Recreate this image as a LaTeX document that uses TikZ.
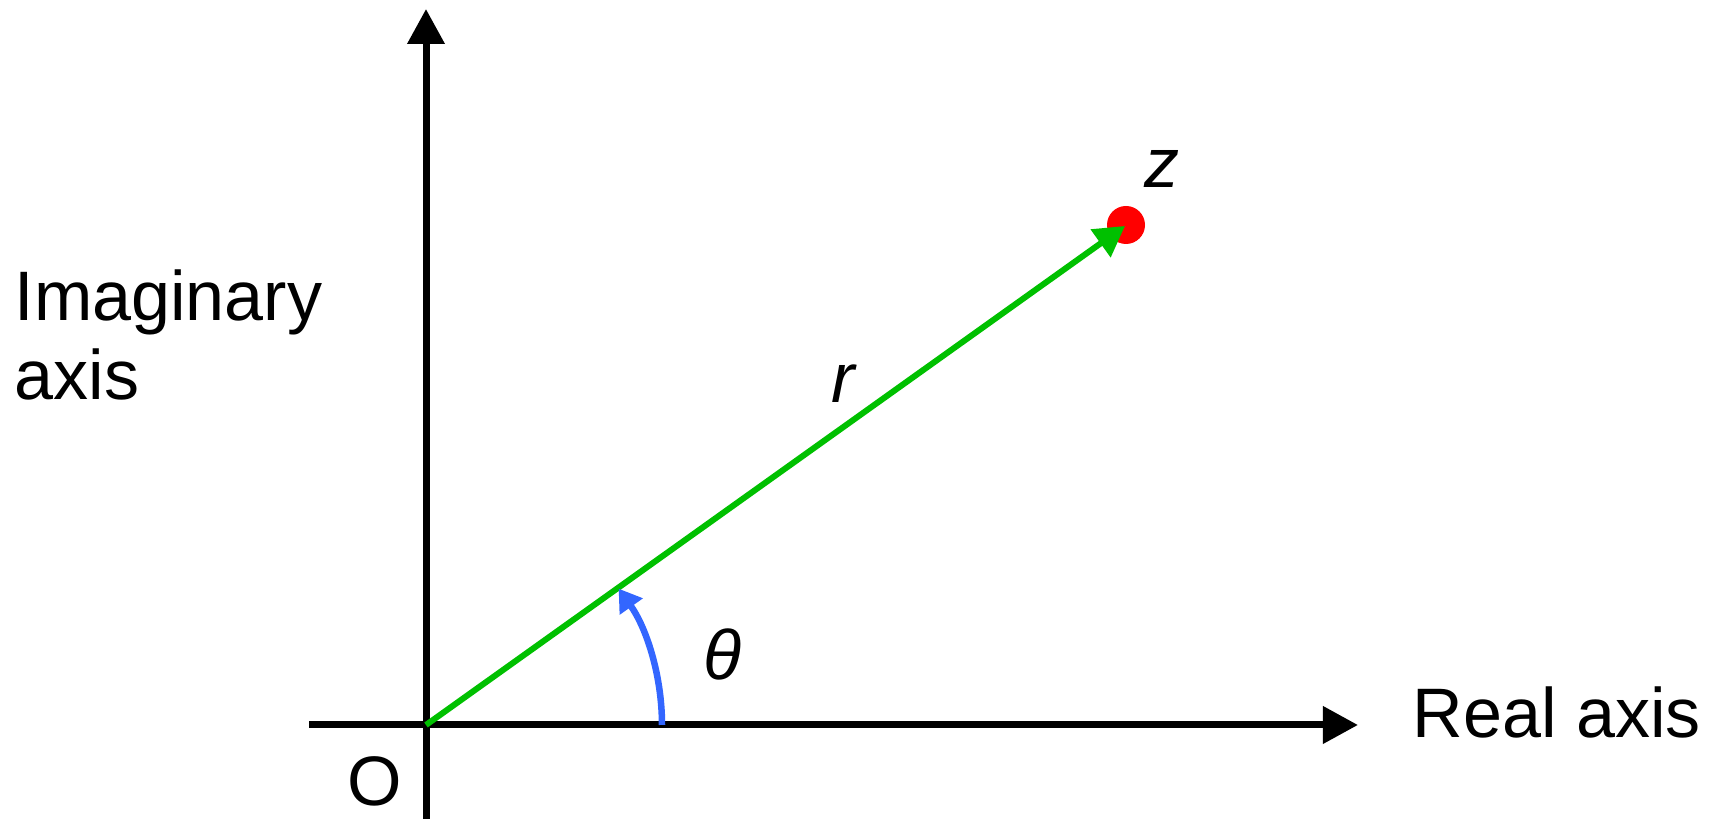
\documentclass[tikz,border=0pt]{standalone}
\usepackage{fontspec}
\setmainfont{Liberation Sans}
\usetikzlibrary{arrows.meta}
\definecolor{vecgreen}{RGB}{0,192,0}
\definecolor{angblue}{RGB}{51,102,255}
\definecolor{ptred}{RGB}{255,0,0}
\begin{document}
\begin{tikzpicture}[x=0.01cm,y=0.01cm,
  axisline/.style={line width=0.07cm,-{Triangle[length=0.35cm,width=0.36cm]}},
  veclines/.style={vecgreen,line width=0.06cm,-{Triangle[length=0.30cm,width=0.33cm]}},
  angarc/.style={angblue,line width=0.065cm,-{Triangle[length=0.22cm,width=0.27cm]}},
  lbl/.style={inner sep=0pt,font=\fontsize{19.92}{20.2}\selectfont},
  mathlbl/.style={lbl,font=\fontsize{19.92}{20.2}\selectfont\itshape}]
\useasboundingbox (0,0) rectangle (1723,819);
% coordinates
\coordinate (O) at (426,94);
\coordinate (ybot) at (426,0);
\coordinate (ytop) at (426,810);
\coordinate (xleft) at (309,94);
\coordinate (xright) at (1358,94);
\coordinate (zpt) at (1125,593);
\coordinate (arcstart) at (662,94);
% point z
\fill[ptred] (1126,594) circle[radius=19];
% axes
\draw[axisline] (ybot) -- (ytop);
\draw[axisline] (xleft) -- (xright);
% vector
\draw[veclines] (O) -- (zpt);
% angle
\draw[angarc] (arcstart) arc[start angle=0,end angle=35.3,radius=236];
% labels
\node[lbl,anchor=base west,align=left] (ilabel) at (14,419) {Imaginary\\[2.3pt]axis};
\node[lbl,anchor=base west] (rlabel) at (1412,81) {Real axis};
\node[lbl,anchor=base] (olabel) at (374.5,13) {O};
\node[mathlbl,anchor=base] (zlabel) at (1162,631) {z};
\node[mathlbl,anchor=base] (rlbl) at (843,416) {r};
\node[mathlbl,anchor=base] (thlabel) at (722,139) {θ};
\end{tikzpicture}
\end{document}
